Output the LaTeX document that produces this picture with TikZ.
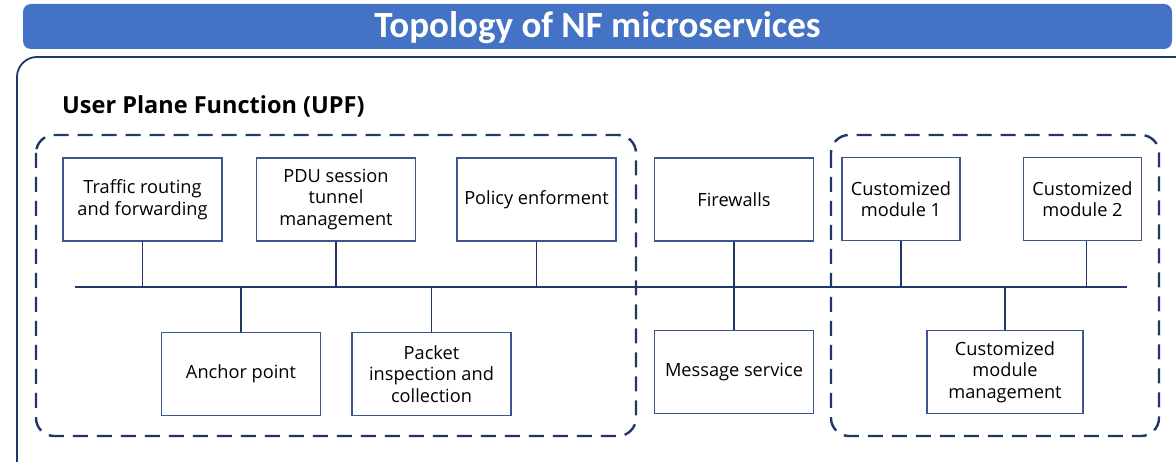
\documentclass[tikz,border=0pt]{standalone}
\usepackage{fontspec}
\setmainfont{Open Sans}
\newfontfamily\titlefont{Carlito}
\usepackage{tikz}
\usetikzlibrary{calc,positioning}
\definecolor{navy}{HTML}{1F3864}
\definecolor{boxline}{HTML}{3A5592}
\definecolor{banner}{HTML}{4472C4}

\begin{document}
\begin{tikzpicture}[x=1pt,y=-1pt]
\tikzstyle{module}=[rectangle, draw=boxline, line width=1.3pt, minimum width=159pt, minimum height=83pt, align=center, font=\fontsize{18.2}{21.5}\selectfont, inner sep=1pt]
\tikzstyle{small}=[module, minimum width=118pt]
\tikzstyle{group}=[draw=navy, line width=2.4pt, dash pattern=on 15pt off 9pt, rounded corners=18pt]
\tikzstyle{link}=[draw=navy, line width=1.6pt]

\useasboundingbox (0,0) rectangle (1176,462);

  % banner and frame
  \node[fill=banner, rounded corners=8pt, minimum width=1149pt, minimum height=45pt] (title) at (597.5,26.5) {};
  \node[text=white, font=\titlefont\bfseries\fontsize{37}{40}\selectfont] at ([yshift=-1.5pt]title.center) {Topology of NF microservices};
  \begin{scope}
    \clip (0,0) rectangle (1176,462);
    \draw[draw=navy, line width=1.8pt, rounded corners=20pt] (17,57) rectangle (1200,485);
  \end{scope}
  \node[anchor=base west, inner sep=0pt, font=\bfseries\fontsize{23.5}{26}\selectfont] (upf) at (62,113.5) {User Plane Function (UPF)};

  % dashed groups
  \draw[group] (36,135) rectangle (636,436);
  \draw[group] (831,135) rectangle (1159,436);

  % bus
  \coordinate (busL) at (75,287);
  \coordinate (busR) at (1127,287);
  \draw[link] (busL) -- (busR);

  % upper modules
  \node[module] (tr)  at (142.5,199.5) {Traffic routing\\and forwarding};
  \node[module] (pdu) at (336,199.5)   {PDU session\\tunnel\\management};
  \node[module] (pol) at (536.5,199.5) {Policy enforment};
  \node[module] (fw)  at (734,199.5)   {Firewalls};
  \node[small]  (cm1) at (901,199)     {Customized\\module 1};
  \node[small]  (cm2) at (1082.5,199)  {Customized\\module 2};

  % lower modules
  \node[module] (ap)  at (241,374)     {Anchor point};
  \node[module] (pic) at (431.5,374)   {Packet\\inspection and\\collection};
  \node[module] (msg) at (734,372)     {Message service};
  \node[module, minimum width=156pt] (cmm) at (1005,372) {Customized\\module\\management};

  \path (tr.south)  edge [link] (tr.south |- busL)
        (pdu.south) edge [link] (pdu.south |- busL)
        (pol.south) edge [link] (pol.south |- busL)
        (fw.south)  edge [link] (fw.south |- busL)
        (cm1.south) edge [link] (cm1.south |- busL)
        ([xshift=4pt]cm2.south) edge [link] ([xshift=4pt]cm2.south |- busL)

        (ap.north)  edge [link] (ap.north |- busL)
        (pic.north) edge [link] (pic.north |- busL)
        (msg.north) edge [link] (msg.north |- busL)
        (cmm.north) edge [link] (cmm.north |- busL);

\end{tikzpicture}
\end{document}
